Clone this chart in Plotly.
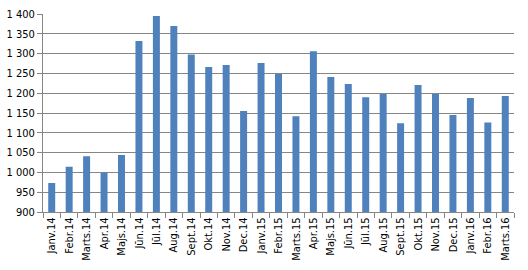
import plotly.graph_objects as go

categories = ["Janv.14","Febr.14","Marts.14","Apr.14","Majs.14","Jūn.14","Jūl.14","Aug.14",
              "Sept.14","Okt.14","Nov.14","Dec.14","Janv.15","Febr.15","Marts.15","Apr.15",
              "Majs.15","Jūn.15","Jūl.15","Aug.15","Sept.15","Okt.15","Nov.15","Dec.15",
              "Janv.16","Febr.16","Marts.16"]
values = [973, 1014, 1041, 1000, 1044, 1332, 1395, 1370,
          1298, 1266, 1271, 1155, 1276, 1249, 1142, 1306,
          1241, 1223, 1190, 1198, 1124, 1221, 1198, 1145,
          1188, 1126, 1193]
y_ticks = [900, 950, 1000, 1050, 1100, 1150, 1200, 1250, 1300, 1350, 1400]

fig = go.Figure(go.Bar(x=categories, y=values, marker=dict(color="#4F81BD", line_width=0)))

fig.update_layout(
    width=528, height=270,
    margin=dict(l=43, r=14, t=14, b=58, autoexpand=False),
    paper_bgcolor="white", plot_bgcolor="white",
    bargap=0.6, showlegend=False,
    separators=", ",
    font=dict(family="DejaVu Sans Condensed, DejaVu Sans", size=11, color="black"),
)
fig.update_xaxes(
    type="category", tickangle=-90, tickson="boundaries", automargin=False,
    ticks="outside", ticklen=5, tickcolor="#868686",
    showline=True, linecolor="#868686", linewidth=1,
    showgrid=False, tickfont=dict(size=11),
)
fig.update_yaxes(
    range=[900, 1400], tickvals=y_ticks, tickformat=",d", automargin=False,
    ticks="outside", ticklen=5, tickcolor="#868686",
    showline=True, linecolor="#868686", linewidth=1,
    showgrid=True, gridcolor="#868686", gridwidth=1,
    zeroline=False, tickfont=dict(size=11),
)

fig.write_html("out.html")
